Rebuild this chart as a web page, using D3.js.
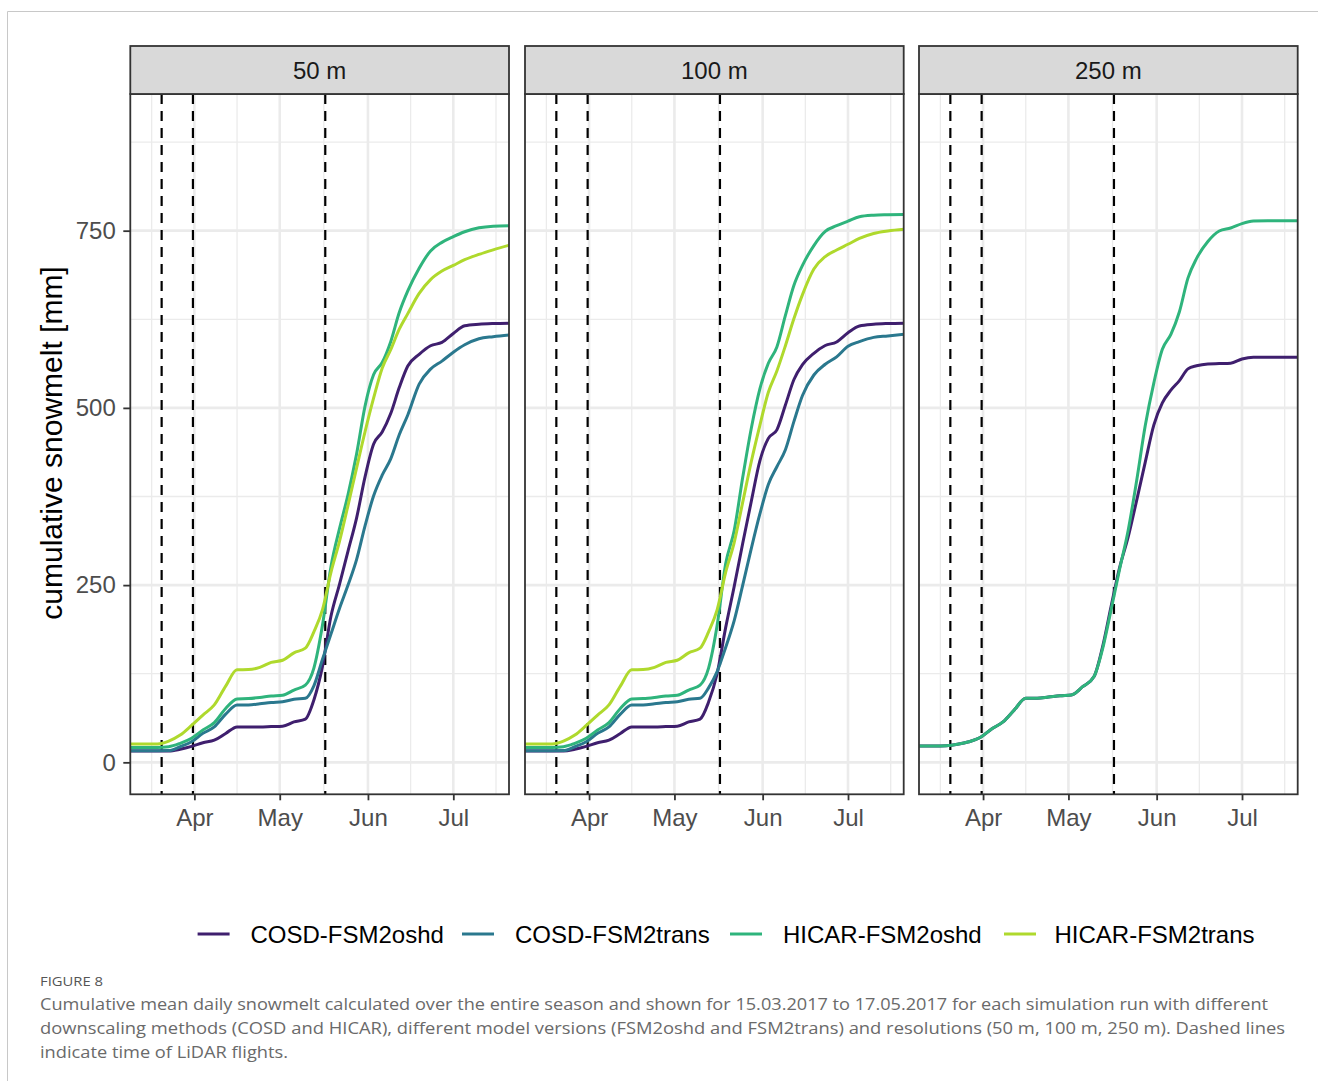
<!DOCTYPE html>
<html><head><meta charset="utf-8">
<script src="https://cdn.jsdelivr.net/npm/d3@7"></script>
<style>body{margin:0;background:#fff}</style>
</head><body><svg id="chart" width="1318" height="1081"></svg>
<script>
// ---------------- data ----------------
const dates = ["2017-03-09","2017-03-15","2017-03-19","2017-03-23","2017-03-27","2017-03-31","2017-04-04","2017-04-08","2017-04-12","2017-04-16","2017-04-20","2017-04-24","2017-04-28","2017-05-02","2017-05-06","2017-05-10","2017-05-13","2017-05-16","2017-05-19","2017-05-22","2017-05-25","2017-05-28","2017-05-31","2017-06-03","2017-06-06","2017-06-09","2017-06-12","2017-06-15","2017-06-19","2017-06-23","2017-06-27","2017-07-01","2017-07-05","2017-07-10","2017-07-15","2017-07-21"];

const facetLabels = ["50 m", "100 m", "250 m"];
const seriesNames = ["COSD-FSM2oshd", "COSD-FSM2trans", "HICAR-FSM2oshd", "HICAR-FSM2trans"];
const seriesColors = ["#3f1f6e", "#2a788e", "#2fb47c", "#afd92d"];

// 50 m
const cosdOshd50  = [16,16,16,16,18.5,22.5,27.7,31.3,40.7,50,50,50,50.5,51,57,61,88,135,206,251,298,344.5,403,449,466,492,528.6,559,575.5,587.6,592.4,605,615.8,618,619,619.5];
const cosdTrans50 = [16.4,16.4,16.4,16.6,22,29,41,50,68,80.8,80.8,82.5,84.5,85.5,89,90.3,108,145,181,217,250,286,334,376,405,428,462,490,533.5,554.7,566,578.5,589,597.5,600.5,603];
const hicarOshd50 = [21,21,21,22,26.8,34,45.6,56,76,89.5,90,91.5,93.5,94.5,102,109,133,193,276,329.6,377.8,434.8,502.9,547,564,593.4,634.5,665,697,721.4,733.5,741.6,748.5,754,756.3,757];
const hicarTrans50 = [25.8,25.8,26,30,38.5,52,66.7,81,107.5,130.5,130.8,134,141,144,154.5,161,184,215,268,311.7,362.6,415,466.7,514,556,582,611,633,661.5,681,693,701,709,716.5,723,730];
// 100 m
const cosdOshd100  = [16,16,16,16,18.5,22.5,27.7,31.3,40.7,50,50,50,50.5,51,57,61,85,125,190,248,309,368,425,457,469,504,540,561,577,588,593,606,615.5,618,619,619.5];
const cosdTrans100 = [16.4,16.4,16.4,16.6,22,29,41,50,68,80.8,80.8,82.5,84.5,85.5,89,90.3,105,128,162,200,250,301.5,350,392,417,441,481,517.5,546.4,561.5,572,587,593.5,599.5,601.5,604];
const hicarOshd100 = [21,21,21,22,26.8,34,45.6,56,76,89.5,90,91.5,93.5,94.5,102,109,133,193,280,327,402,471,526.6,563,586,630.5,673,701,729,749,757,763.5,769.6,771.8,772.5,773];
const hicarTrans100 = [25.8,25.8,26,30,38.5,52,66.7,81,107.5,130.5,130.8,134,141,144,154.5,161,184,215,268,310,367,424,475,522,552,587.7,626,659.8,695.8,713.5,722.7,730.8,739,746,749.5,752];
// 250 m
const cosdOshd250 = [23,23,23.5,25.5,29,35,47,57,74,90.3,90.3,92,94,95,106.7,121,163,220,275,318,370,423.5,475.6,507,525,538.5,555,559.4,562,562.5,563,569,571.4,571.4,571.4,571.4];
const hicarOshd250 = [23,23,23.5,25.5,29,35,47,57,74,90.3,90.3,92,94,95,106.7,121,160,215.5,272.7,327.5,398,475,535,582.6,603.7,635.6,683,710.6,734.7,749.5,753.8,760,763.5,764,764,764];

const lidarFlights = ["2017-03-20T12:00Z", "2017-03-31T12:00Z", "2017-05-17T00:00Z"];
const monthTicks = ["2017-04-01", "2017-05-01", "2017-06-01", "2017-07-01"];
const monthLabels = ["Apr", "May", "Jun", "Jul"];
const monthMinor = ["2017-03-17", "2017-04-16", "2017-05-16T12:00Z", "2017-06-16", "2017-07-16"];
const yTicks = [0, 250, 500, 750];
const yMinor = [125, 375, 625, 875];

const facets = [
  { label: facetLabels[0], series: [[0, cosdOshd50], [1, cosdTrans50], [2, hicarOshd50], [3, hicarTrans50]] },
  { label: facetLabels[1], series: [[0, cosdOshd100], [1, cosdTrans100], [2, hicarOshd100], [3, hicarTrans100]] },
  { label: facetLabels[2], series: [[0, cosdOshd250], [2, hicarOshd250]] }
];

const captionHead = "FIGURE 8";
const captionLines = [
  "Cumulative mean daily snowmelt calculated over the entire season and shown for 15.03.2017 to 17.05.2017 for each simulation run with different",
  "downscaling methods (COSD and HICAR), different model versions (FSM2oshd and FSM2trans) and resolutions (50 m, 100 m, 250 m). Dashed lines",
  "indicate time of LiDAR flights."
];

// ---------------- layout ----------------
const W = 1318, H = 1081;
const FONT = "'Liberation Sans', Arial, sans-serif";
const panelX = [130.3, 525, 919], panelW = 378.7;
const stripTop = 46, panelTop = 94, panelBottom = 794.3;
const parse = s => new Date(s);

const svg = d3.select("#chart");
svg.append("rect").attr("width", W).attr("height", H).attr("fill", "#fff");
svg.append("path").attr("d", "M7.5,1081 V11.5 H1318")
  .attr("fill", "none").attr("stroke", "#c8c8c8").attr("stroke-width", 1);

const y = d3.scaleLinear().domain([-45.1, 942.8]).range([panelBottom, panelTop]);

facets.forEach((f, i) => {
  const x0 = panelX[i], x1 = x0 + panelW;
  const x = d3.scaleUtc()
    .domain([parse("2017-03-09T11:40Z"), parse("2017-07-20T13:40Z")])
    .range([x0, x1]);
  const g = svg.append("g");

  const clipId = "clip" + i;
  svg.append("clipPath").attr("id", clipId)
    .append("rect").attr("x", x0).attr("y", panelTop).attr("width", panelW).attr("height", panelBottom - panelTop);

  // minor grid
  g.selectAll(".ymin").data(yMinor).join("line")
    .attr("x1", x0).attr("x2", x1).attr("y1", d => y(d)).attr("y2", d => y(d))
    .attr("stroke", "#ebebeb").attr("stroke-width", 1.3);
  g.selectAll(".xmin").data(monthMinor).join("line")
    .attr("x1", d => x(parse(d))).attr("x2", d => x(parse(d)))
    .attr("y1", panelTop).attr("y2", panelBottom)
    .attr("stroke", "#ebebeb").attr("stroke-width", 1.3);
  // major grid
  g.selectAll(".ymaj").data(yTicks).join("line")
    .attr("x1", x0).attr("x2", x1).attr("y1", d => y(d)).attr("y2", d => y(d))
    .attr("stroke", "#ebebeb").attr("stroke-width", 2.6);
  g.selectAll(".xmaj").data(monthTicks).join("line")
    .attr("x1", d => x(parse(d))).attr("x2", d => x(parse(d)))
    .attr("y1", panelTop).attr("y2", panelBottom)
    .attr("stroke", "#ebebeb").attr("stroke-width", 2.6);

  // LiDAR flights
  g.selectAll(".vl").data(lidarFlights).join("line")
    .attr("x1", d => x(parse(d))).attr("x2", d => x(parse(d)))
    .attr("y1", panelTop).attr("y2", panelBottom)
    .attr("stroke", "#000").attr("stroke-width", 2.2).attr("stroke-dasharray", "10,7");

  // series
  const line = d3.line().x((d, k) => x(parse(dates[k]))).y(d => y(d)).curve(d3.curveMonotoneX);
  const lg = g.append("g").attr("clip-path", `url(#${clipId})`);
  f.series.forEach(([si, vals]) => {
    lg.append("path").datum(vals).attr("d", line)
      .attr("fill", "none").attr("stroke", seriesColors[si])
      .attr("stroke-width", 3).attr("stroke-linejoin", "round").attr("stroke-linecap", "round");
  });

  // panel border
  g.append("rect").attr("x", x0).attr("y", panelTop).attr("width", panelW).attr("height", panelBottom - panelTop)
    .attr("fill", "none").attr("stroke", "#333").attr("stroke-width", 1.8);
  // strip
  g.append("rect").attr("x", x0).attr("y", stripTop).attr("width", panelW).attr("height", panelTop - stripTop)
    .attr("fill", "#d9d9d9").attr("stroke", "#333").attr("stroke-width", 1.8);
  g.append("text").attr("x", (x0 + x1) / 2).attr("y", 79).attr("text-anchor", "middle")
    .attr("font-family", FONT).attr("font-size", 24).attr("fill", "#1a1a1a").text(f.label);

  // x axis
  const xa = svg.append("g").attr("transform", `translate(0,${panelBottom})`)
    .call(d3.axisBottom(x).tickValues(monthTicks.map(parse)).tickFormat((d, k) => monthLabels[k])
      .tickSize(6).tickPadding(8.7));
  xa.select(".domain").remove();
  xa.selectAll(".tick line").attr("stroke", "#333").attr("stroke-width", 1.8);
  xa.selectAll(".tick text").attr("font-family", FONT).attr("font-size", 24).attr("fill", "#4d4d4d");

  if (i === 0) {
    const ya = svg.append("g").attr("transform", `translate(${x0},0)`)
      .call(d3.axisLeft(y).tickValues(yTicks).tickSize(7).tickPadding(7.5));
    ya.select(".domain").remove();
    ya.selectAll(".tick line").attr("stroke", "#333").attr("stroke-width", 1.8);
    ya.selectAll(".tick text").attr("font-family", FONT).attr("font-size", 24).attr("fill", "#4d4d4d");
  }
});

// y title
svg.append("text").attr("transform", "translate(62,443) rotate(-90)").attr("text-anchor", "middle")
  .attr("font-family", FONT).attr("font-size", 30).attr("fill", "#000").text("cumulative snowmelt [mm]");

// legend
const legKeyX = [197.6, 462, 730, 1004];
const legTextX = [250.5, 515, 783, 1054.5];
const legY = 934;
seriesNames.forEach((n, k) => {
  svg.append("line").attr("x1", legKeyX[k]).attr("x2", legKeyX[k] + 32).attr("y1", legY).attr("y2", legY)
    .attr("stroke", seriesColors[k]).attr("stroke-width", 3);
  svg.append("text").attr("x", legTextX[k]).attr("y", legY + 8.5)
    .attr("font-family", FONT).attr("font-size", 24).attr("fill", "#000").text(n);
});

// caption
const CAPFONT = "'Open Sans', 'Noto Sans', sans-serif";
svg.append("text").attr("x", 40).attr("y", 986).attr("font-family", CAPFONT).attr("font-size", 12.5)
  .attr("fill", "#555").attr("textLength", 63).attr("lengthAdjust", "spacingAndGlyphs").text(captionHead);
const capW = [1228, 1245, 248];
captionLines.forEach((t, k) => {
  svg.append("text").attr("x", 40).attr("y", 1010 + k * 24).attr("font-family", CAPFONT).attr("font-size", 17)
    .attr("fill", "#6a6a6a").attr("textLength", capW[k]).attr("lengthAdjust", "spacingAndGlyphs").text(t);
});
</script></body></html>
